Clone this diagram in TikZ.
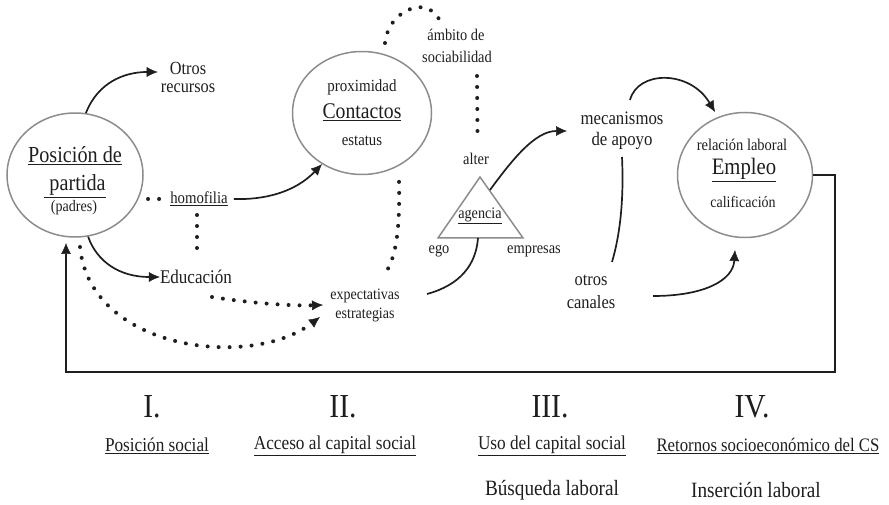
\documentclass[tikz,border=0pt]{standalone}
\usepackage{fontspec}
\setmainfont{Liberation Serif}[FakeStretch=0.88]
\usetikzlibrary{arrows.meta,shapes.geometric}
\definecolor{circgray}{HTML}{8C8C8C}
\definecolor{ink}{HTML}{1E1E1E}
\newcommand\fsz[1]{\fontsize{\fpeval{#1*1.12}}{\fpeval{#1*1.12}}\selectfont}
\begin{document}
\begin{tikzpicture}[x=1pt,y=-1pt,
  circ/.style={draw=circgray, line width=1.5pt, ellipse, inner sep=0pt},
  tri/.style={draw=circgray, line width=1.5pt, line join=miter},
  txt/.style={inner sep=0pt, text=ink},
  arr/.style={line width=1.7pt, draw=ink, -{Latex[length=11pt,width=10pt,line width=0.5pt]}},
  con/.style={line width=1.7pt, draw=ink},
  dots/.style={draw=ink, line width=4pt, line cap=round, dash pattern=on 0pt off 11pt},
  darr/.style={dots, -{Latex[length=11pt,width=10pt,line width=0.5pt]}},
]
\useasboundingbox (0,0) rectangle (889,505);

% circles
\node[circ, minimum width=136pt, minimum height=124pt] (pos) at (75,175) {};
\node[circ, minimum width=139pt, minimum height=123pt] (cont) at (362,113) {};
\node[circ, minimum width=135pt, minimum height=125pt] (emp) at (745,175) {};
\draw[tri] (480,177) coordinate (triT) -- (523,238) coordinate (triR) -- (438,238) coordinate (triL) -- cycle;

% texts
\node[txt] (posA) at (75,156) {\fsz{20.5}\underline{Posición de}};
\node[txt] (posB) at (75,186) {\fsz{20.5}\underline{\ partida}};
\node[txt] (posC) at (74,208) {\fsz{14.3}(padres)};
\node[txt, align=center, anchor=north, font={\fontsize{18.5}{18}\selectfont}] (otros) at (188,62) {Otros\\recursos};
\node[txt] (homo) at (199,199) {\fsz{15}\underline{homofilia}};
\node[txt] (educ) at (196,277) {\fsz{17.3}Educación};
\node[txt] (contA) at (362,87) {\fsz{15.2}proximidad};
\node[txt] (contB) at (362,112) {\fsz{20}\underline{Contactos}};
\node[txt] (contC) at (362,141) {\fsz{15}estatus};
\node[txt] (ambA) at (456,35) {\fsz{14.6}ámbito de};
\node[txt] (ambB) at (457,57) {\fsz{14.6}sociabilidad};
\node[txt] (alter) at (476,159) {\fsz{14.6}alter};
\node[txt] (agen) at (480,216) {\fsz{14.4}\underline{agencia}};
\node[txt] (ego) at (439,251) {\fsz{14.6}ego};
\node[txt] (empr) at (534,251) {\fsz{14.6}empresas};
\node[txt] (expA) at (365,296) {\fsz{14.2}expectativas};
\node[txt] (expB) at (365,315) {\fsz{14.2}estrategias};
\node[txt] (mecA) at (622,118) {\fsz{17}mecanismos};
\node[txt] (mecB) at (622,141) {\fsz{17}de apoyo};
\node[txt] (canA) at (591,280) {\fsz{16.7}otros};
\node[txt] (canB) at (591,302) {\fsz{16.7}canales};
\node[txt] (empA) at (742,145) {\fsz{14.7}relación laboral};
\node[txt] (empB) at (744,170) {\fsz{21}\underline{Empleo}};
\node[txt] (empC) at (743,202) {\fsz{14.2}calificación};

% bottom labels
\node[txt] (n1) at (152,407) {\fsz{30}I.};
\node[txt] (n2) at (343,407) {\fsz{30}II.};
\node[txt] (n3) at (550,407) {\fsz{30}III.};
\node[txt] (n4) at (752,407) {\fsz{30}IV.};
\node[txt] (s1) at (157,446) {\fsz{17.5}\underline{Posición social}};
\node[txt] (s2) at (335,446) {\fsz{17.5}\underline{Acceso al capital social}};
\node[txt] (s3) at (552,446) {\fsz{17.5}\underline{Uso del capital social}};
\node[txt] (s4) at (768,446) {\fsz{17}\underline{Retornos socioeconómico del CS}};
\node[txt] (b3) at (552,490) {\fsz{19.5}Búsqueda laboral};
\node[txt] (b4) at (756,490) {\fsz{19.5}Inserción laboral};

% coordinates for free ends
\coordinate (hd1) at (197,215);
\coordinate (hd2) at (197,250.5);
\coordinate (ed1) at (212,297);
\coordinate (pd1) at (80,247);
\coordinate (cd2) at (387,270.5);
\coordinate (ad1) at (385,43);
\coordinate (ad2) at (439,19);
\coordinate (sd1) at (477,76);
\coordinate (sd2) at (477.5,132.5);
\coordinate (ex1) at (427,294);
\coordinate (triB) at (478,238);
\coordinate (triS) at (490,190);
\coordinate (mecIn) at (567,131);
\coordinate (mecTop) at (630,100);
\coordinate (empTop) at (715,112);
\coordinate (mecBot) at (622,157);
\coordinate (canTop) at (612,262);
\coordinate (canR) at (653,296);
\coordinate (empBot) at (735,250);
\coordinate (fbA) at (835,175);
\coordinate (fbB) at (835,372);
\coordinate (fbC) at (66,372);
\coordinate (fbD) at (66,243);
\coordinate (expIn1) at (323,305);
\coordinate (expIn2) at (320,317);

% solid connectors
\draw[arr] (pos.80) .. controls (98,82) and (125,72) .. ([shift={(-3pt,-10pt)}]otros.north west);
\draw[arr] (pos.-78) .. controls (97,262) and (120,277) .. (educ.west);
\draw[arr] ([xshift=6pt]homo.east) .. controls (265,200) and (295,192) .. (cont.-128);
\draw[con] (ex1) .. controls (460,285) and (476,265) .. (triB);
\draw[arr] (triS) .. controls (512,160) and (535,131) .. (mecIn);
\draw[arr] (mecTop) .. controls (638,70) and (690,70) .. (empTop);
\draw[con] (mecBot) .. controls (624,200) and (620,235) .. (canTop);
\draw[arr] (canR) .. controls (705,296) and (733,280) .. (empBot);
\draw[arr] (emp.east) -- (fbA) -- (fbB) -- (fbC) -- (fbD);

% dotted connectors
\draw[dots] ([xshift=-22pt]homo.west) -- ([xshift=-9.5pt]homo.west);
\draw[dots] (hd1) -- (hd2);
\draw[darr] (ed1) .. controls (250,303) and (290,306) .. (expIn1);
\draw[darr] (pd1) .. controls (90,350) and (250,370) .. (expIn2);
\draw[dots] ([yshift=-16pt]cont.-55) .. controls (400,230) and (396,255) .. (cd2);
\draw[dots] (ad1) .. controls (388,12) and (425,-6) .. (ad2);
\draw[dots] (sd1) -- (sd2);
\end{tikzpicture}
\end{document}
